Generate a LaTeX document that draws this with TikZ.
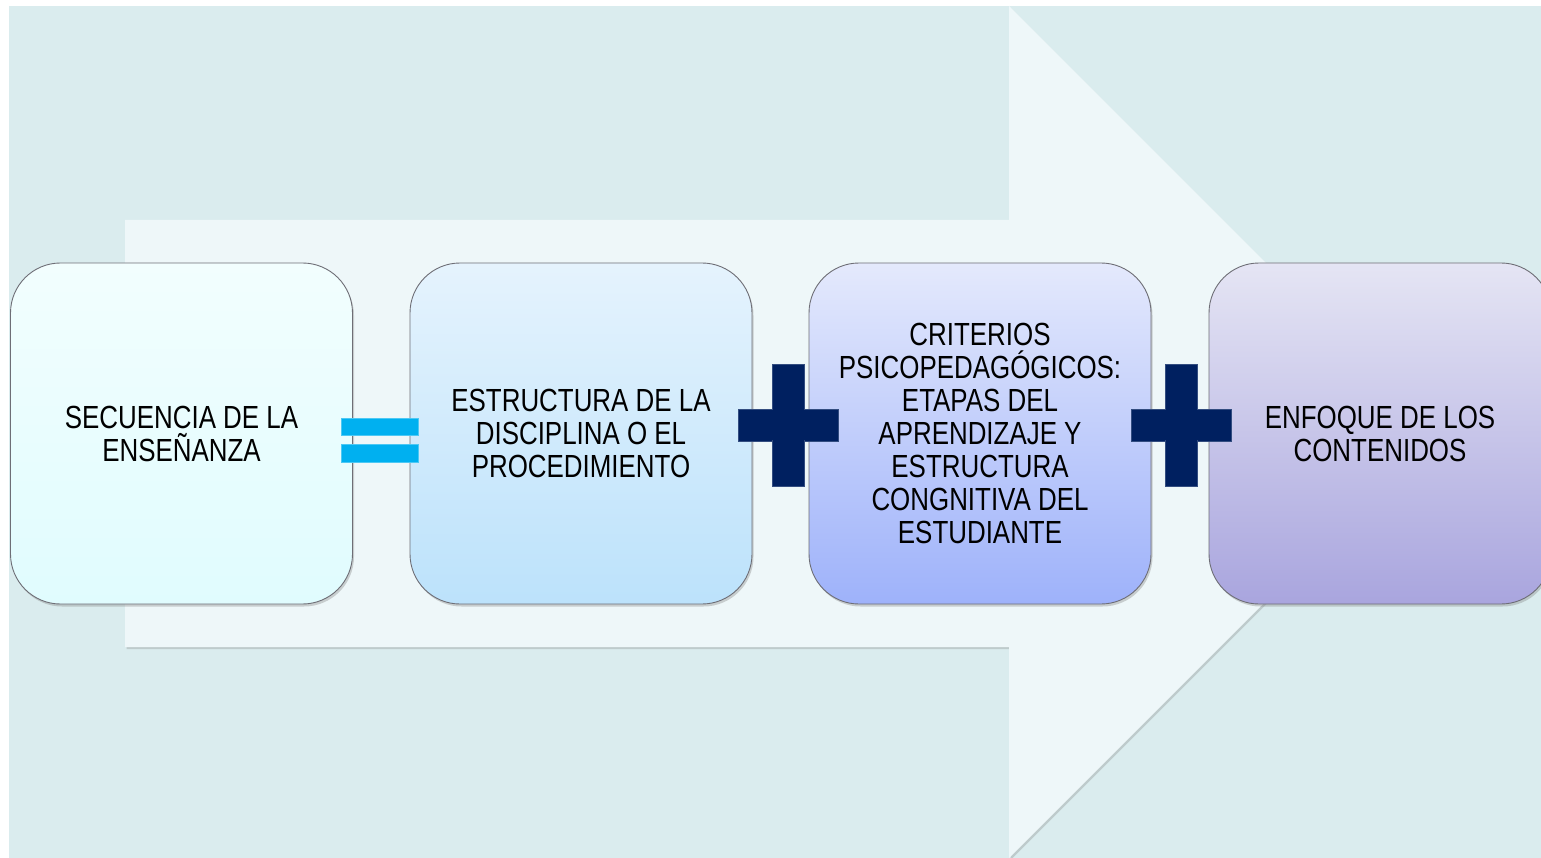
\documentclass[tikz,border=0pt]{standalone}
\usepackage{fontspec}
\setmainfont[FakeStretch=0.81]{Liberation Sans}
\usetikzlibrary{shadows}
\definecolor{bgc}{HTML}{DAECEE}
\definecolor{arrowc}{HTML}{EEF7F9}
\definecolor{eqc}{HTML}{00B0F0}
\definecolor{plc}{HTML}{002060}
\definecolor{bord}{HTML}{6E6E76}
\definecolor{b1t}{HTML}{F2FEFE}
\definecolor{b1b}{HTML}{E0FCFE}
\definecolor{b2t}{HTML}{E5F3FD}
\definecolor{b2b}{HTML}{BCE2FB}
\definecolor{b3t}{HTML}{E4E9FC}
\definecolor{b3b}{HTML}{9EB2FA}
\definecolor{b4t}{HTML}{E5E5F4}
\definecolor{b4b}{HTML}{A9A5DE}
\tikzset{
  box/.style={draw=bord, line width=0.9pt, rounded corners=50pt,
    minimum width=342pt, minimum height=341pt, inner sep=0pt,
    align=center, text=black, font=\fontsize{32}{33}\selectfont,
    drop shadow={opacity=0.35, shadow xshift=1.5pt, shadow yshift=-2.5pt}},
  eqbar/.style={fill=eqc, draw=eqc!70!white, line width=0.6pt, minimum width=77pt, minimum height=17.5pt, inner sep=0pt},
  plbar/.style={fill=plc, draw=plc!80!white, line width=0.6pt, inner sep=0pt},
}
\begin{document}
\begin{tikzpicture}[x=1pt,y=-1pt]
\clip (0,0) rectangle (1541,858);
\fill[white] (0,0) rectangle (1541,858);
\fill[bgc] (9,6) rectangle (1545,862);
% big arrow
\fill[arrowc, drop shadow={opacity=0.3, shadow xshift=1.5pt, shadow yshift=-2pt}]
  (125,220) -- (1009,220) -- (1009,6) -- (1435,432) -- (1009,858) -- (1009,647) -- (125,647) -- cycle;
% boxes
\node[box, top color=b1t, bottom color=b1b] (b1) at (181.5,433.5)
  {SECUENCIA DE LA\\ENSEÑANZA};
\node[box, top color=b2t, bottom color=b2b] (b2) at (581,433.5)
  {ESTRUCTURA DE LA\\DISCIPLINA O EL\\PROCEDIMIENTO};
\node[box, top color=b3t, bottom color=b3b] (b3) at (980,433.5)
  {CRITERIOS\\PSICOPEDAGÓGICOS:\\ETAPAS DEL\\APRENDIZAJE Y\\ESTRUCTURA\\CONGNITIVA DEL\\ESTUDIANTE};
\node[box, top color=b4t, bottom color=b4b] (b4) at (1380,433.5)
  {ENFOQUE DE LOS\\CONTENIDOS};
% equals
\node[eqbar] (eqa) at (379.5,427) {};
\node[eqbar] (eqb) at (379.5,453.5) {};
% plus 1
\node[plbar, minimum width=100pt, minimum height=32pt] (p1h) at (788.3,425) {};
\node[plbar, minimum width=32pt, minimum height=122pt] (p1v) at (788.3,425) {};
\fill[plc] (p1h.north west) ++(1,1) rectangle ([shift={(-1,-1)}]p1h.south east);
% plus 2
\node[plbar, minimum width=100pt, minimum height=32pt] (p2h) at (1181,425) {};
\node[plbar, minimum width=32pt, minimum height=122pt] (p2v) at (1181,425) {};
\fill[plc] (p2h.north west) ++(1,1) rectangle ([shift={(-1,-1)}]p2h.south east);
\end{tikzpicture}
\end{document}
